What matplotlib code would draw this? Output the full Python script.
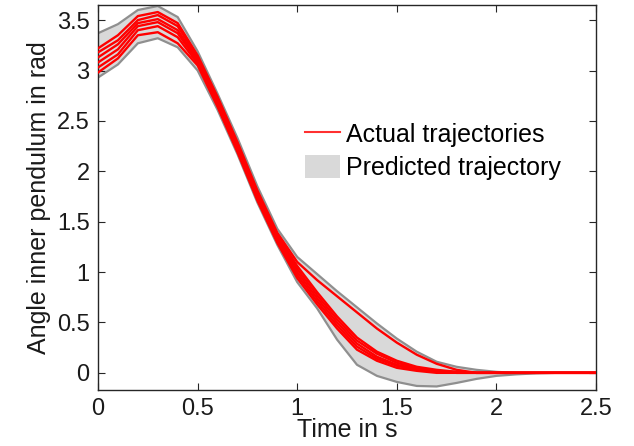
import matplotlib.pyplot as plt
from matplotlib.patches import Patch
from matplotlib.lines import Line2D

plt.rcParams['font.family'] = ['Liberation Sans', 'DejaVu Sans']

# time grid (s)
t = [0.0, 0.1, 0.2, 0.3, 0.4, 0.5, 0.6, 0.7, 0.8, 0.9, 1.0, 1.1, 1.2,
     1.3, 1.4, 1.5, 1.6, 1.7, 1.8, 1.9, 2.0, 2.1, 2.2, 2.3, 2.4, 2.5]

# predicted trajectory band (rad)
pred_upper = [3.37, 3.46, 3.60, 3.64, 3.53, 3.19, 2.77, 2.33, 1.85, 1.43, 1.15, 0.98, 0.81,
              0.65, 0.49, 0.34, 0.21, 0.11, 0.06, 0.03, 0.01, 0.0, 0.0, 0.0, 0.0, 0.0]
pred_lower = [2.93, 3.06, 3.27, 3.32, 3.23, 3.00, 2.61, 2.17, 1.69, 1.27, 0.90, 0.64, 0.33,
              0.08, -0.03, -0.09, -0.13, -0.135, -0.10, -0.06, -0.03, -0.015, -0.005, 0.0, 0.0, 0.0]

# actual trajectories (rad)
traj_a = [3.22, 3.35, 3.54, 3.58, 3.47, 3.15, 2.74, 2.29, 1.81, 1.39, 1.10, 0.92, 0.76,
          0.60, 0.44, 0.30, 0.18, 0.09, 0.03, 0.0, 0.0, 0.0, 0.0, 0.0, 0.0, 0.0]
traj_b = [3.18, 3.30, 3.50, 3.55, 3.44, 3.13, 2.72, 2.27, 1.79, 1.37, 1.06, 0.80, 0.56,
          0.35, 0.21, 0.12, 0.06, 0.03, 0.01, 0.0, 0.0, 0.0, 0.0, 0.0, 0.0, 0.0]
traj_c = [3.13, 3.26, 3.47, 3.51, 3.40, 3.11, 2.70, 2.25, 1.77, 1.35, 1.03, 0.77, 0.53,
          0.32, 0.19, 0.10, 0.05, 0.02, 0.01, 0.0, 0.0, 0.0, 0.0, 0.0, 0.0, 0.0]
traj_d = [3.08, 3.21, 3.44, 3.48, 3.37, 3.09, 2.68, 2.23, 1.75, 1.33, 1.00, 0.74, 0.50,
          0.29, 0.16, 0.08, 0.04, 0.02, 0.0, 0.0, 0.0, 0.0, 0.0, 0.0, 0.0, 0.0]
traj_e = [3.03, 3.16, 3.40, 3.44, 3.33, 3.07, 2.66, 2.21, 1.73, 1.31, 0.97, 0.71, 0.47,
          0.26, 0.14, 0.07, 0.03, 0.01, 0.0, 0.0, 0.0, 0.0, 0.0, 0.0, 0.0, 0.0]
traj_f = [2.98, 3.12, 3.35, 3.38, 3.27, 3.05, 2.64, 2.19, 1.71, 1.29, 0.94, 0.68, 0.44,
          0.23, 0.12, 0.05, 0.02, 0.0, 0.0, 0.0, 0.0, 0.0, 0.0, 0.0, 0.0, 0.0]

x_ticks = [0, 0.5, 1, 1.5, 2, 2.5]
x_tick_labels = ['0', '0.5', '1', '1.5', '2', '2.5']
y_ticks = [0, 0.5, 1, 1.5, 2, 2.5, 3, 3.5]
y_tick_labels = ['0', '0.5', '1', '1.5', '2', '2.5', '3', '3.5']

fig = plt.figure(figsize=(6.34, 4.46), dpi=100)
ax = fig.add_axes([0.1546, 0.1256, 0.7855, 0.8632])

ax.fill_between(t, pred_lower, pred_upper, facecolor='#d9d9d9', edgecolor='none', zorder=1)
ax.plot(t, pred_upper, color='#8f8f8f', lw=1.6, zorder=2)
ax.plot(t, pred_lower, color='#8f8f8f', lw=1.6, zorder=2)

for traj in [traj_a, traj_b, traj_c, traj_d, traj_e, traj_f]:
    ax.plot(t, traj, color='#ff0000', lw=1.7, zorder=3)

ax.set_xlim(0, 2.5)
ax.set_ylim(-0.17, 3.65)
ax.set_xticks(x_ticks)
ax.set_xticklabels(x_tick_labels)
ax.set_yticks(y_ticks)
ax.set_yticklabels(y_tick_labels)
ax.tick_params(direction='in', length=5, width=0.8, labelsize=17, top=True, right=True,
               colors='#262626', labelcolor='#1a1a1a', pad=6)
for s in ax.spines.values():
    s.set_color('#262626')
    s.set_linewidth(1.0)

ax.set_xlabel('Time in s', fontsize=18, labelpad=-2, color='#1a1a1a')
ax.set_ylabel('Angle inner pendulum in rad', fontsize=18, labelpad=4, color='#1a1a1a')

handles = [Line2D([], [], color='#ff3030', lw=1.5),
           Patch(facecolor='#d9d9d9', edgecolor='none')]
ax.legend(handles, ['Actual trajectories', 'Predicted trajectory'], loc='center left',
          bbox_to_anchor=(0.416, 0.62), frameon=False, fontsize=18, borderpad=0,
          handlelength=1.4, handleheight=1.0, handletextpad=0.25, labelspacing=0.32,
          borderaxespad=0)

plt.savefig('out.png', dpi=100)
